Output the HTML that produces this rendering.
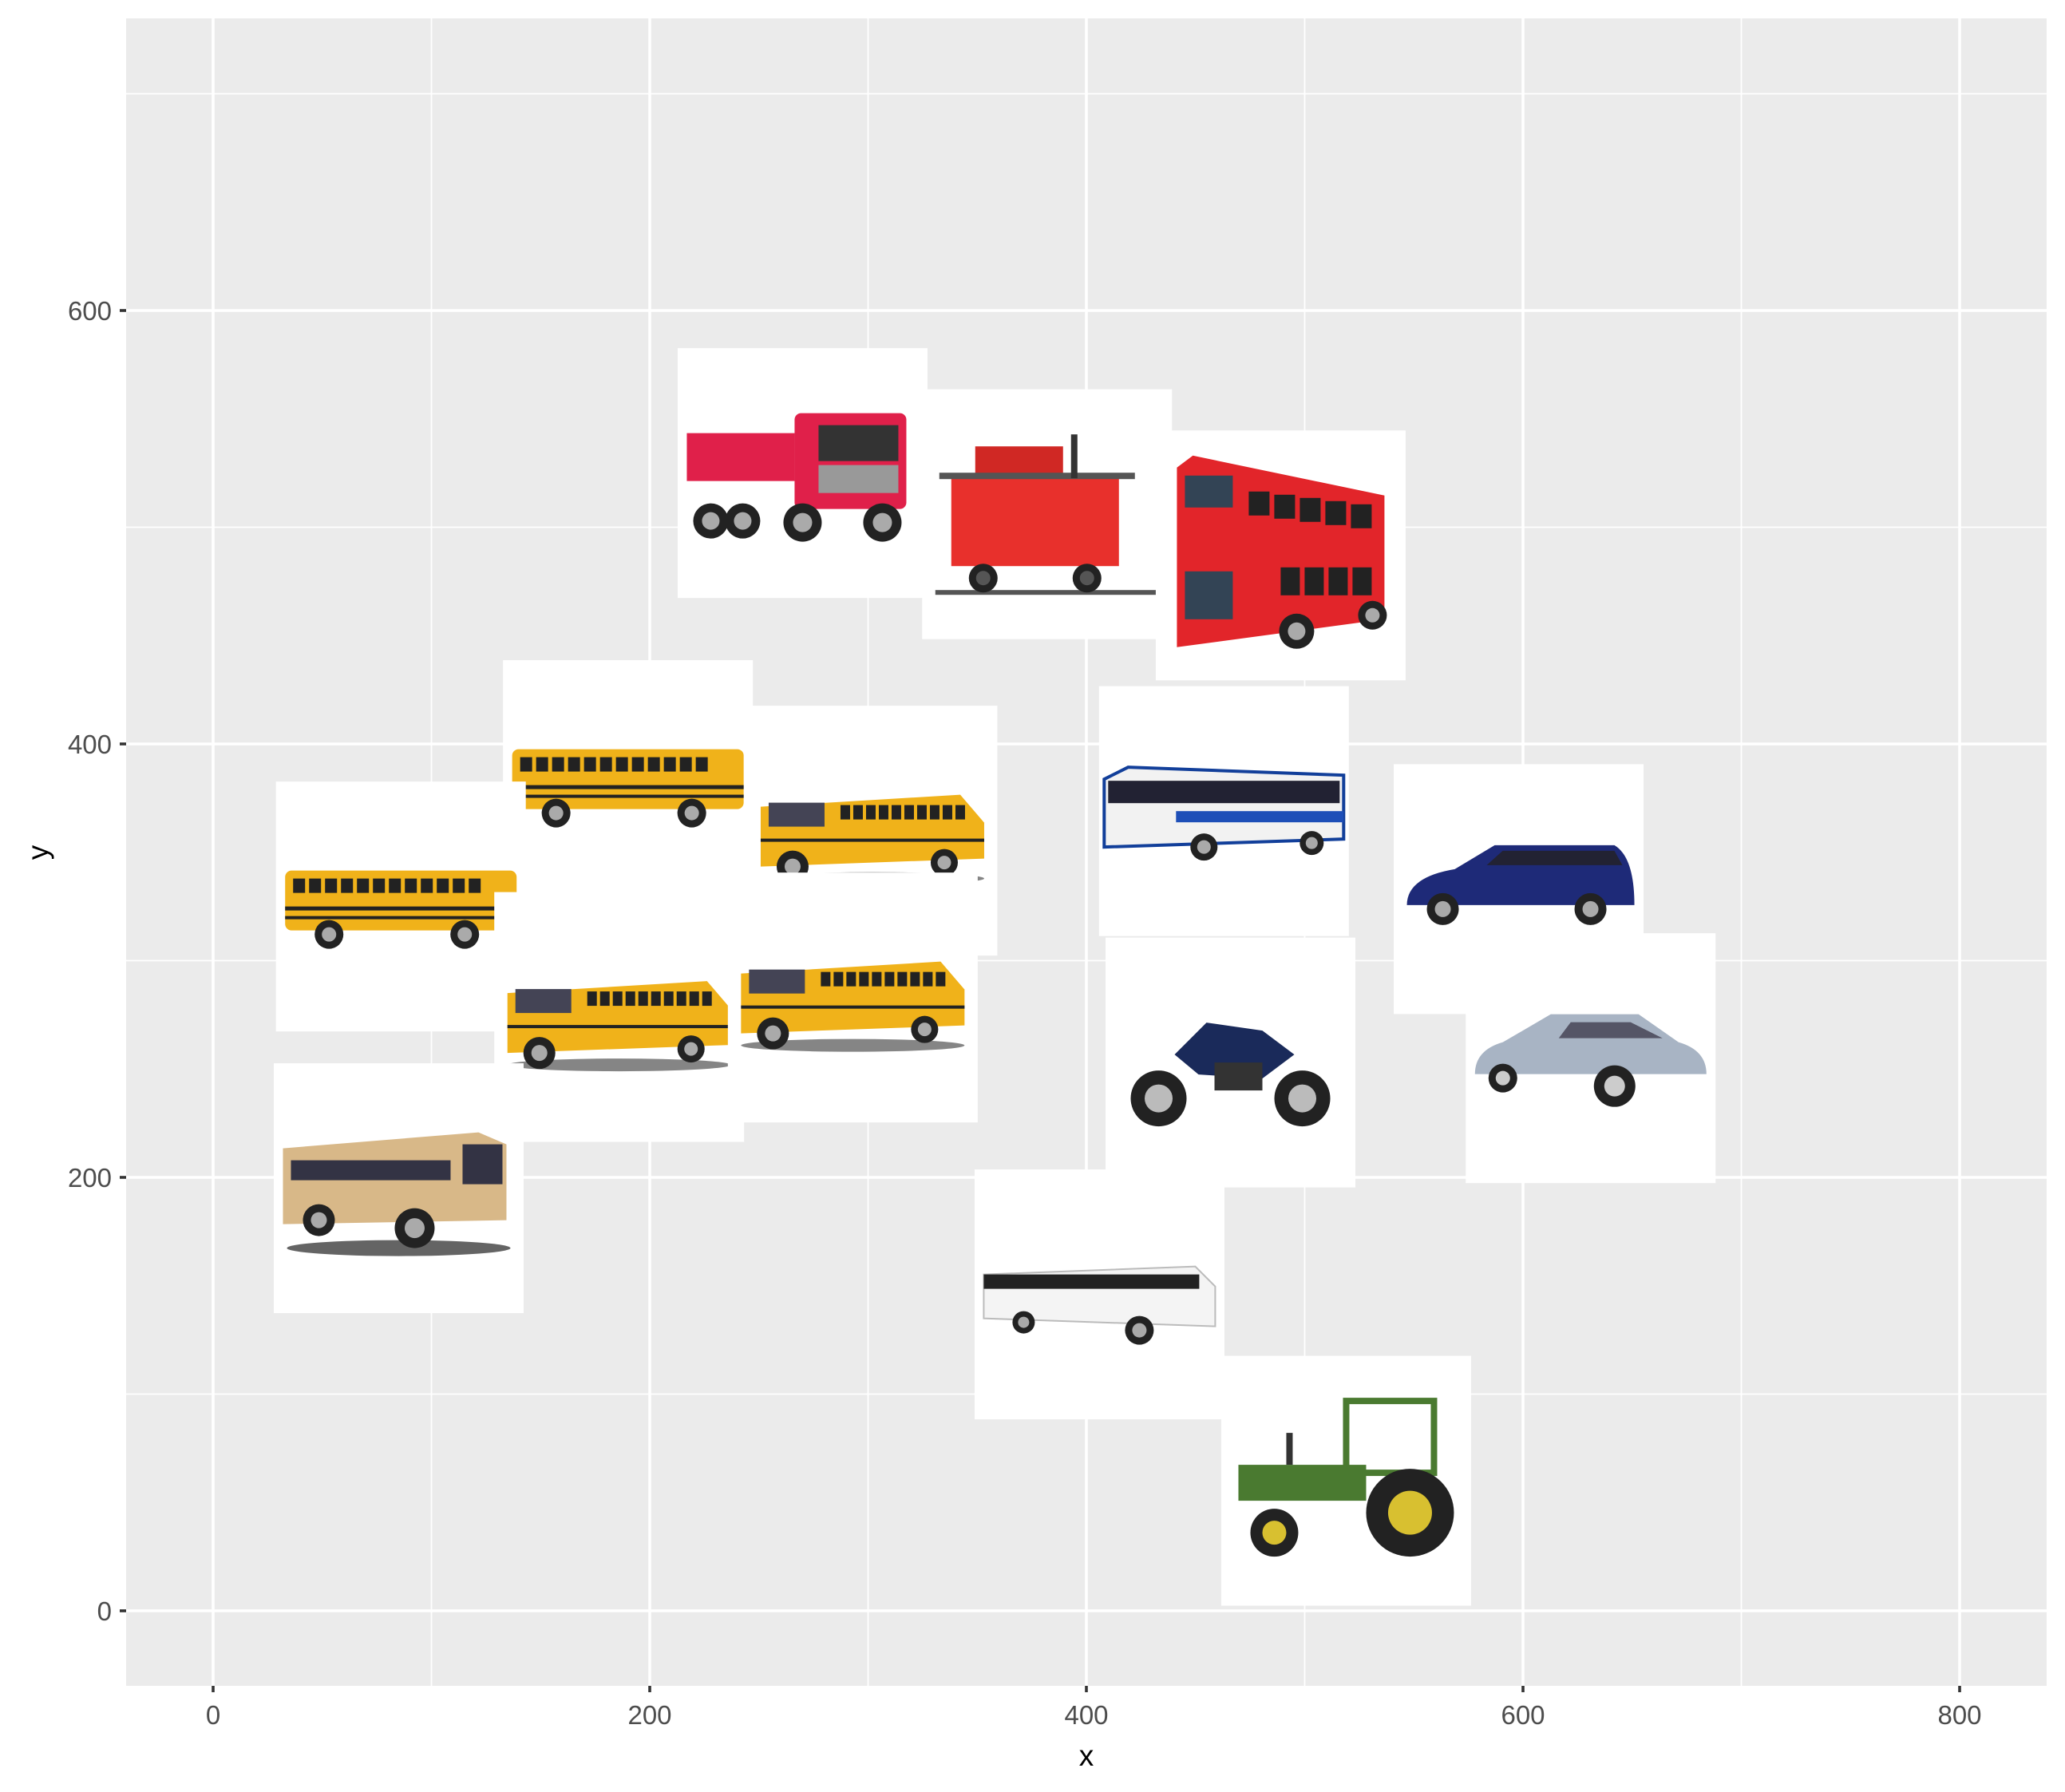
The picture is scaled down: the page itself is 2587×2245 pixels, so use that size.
<!DOCTYPE html>
<html><head><meta charset="utf-8"><style>
html,body{margin:0;padding:0;background:#fff;}
svg{display:block;font-family:"Liberation Sans",Arial,sans-serif;}
</style></head><body>
<svg id="chart" width="2587" height="2245" viewBox="0 0 2587 2245">
<rect x="158" y="23" width="2406" height="2089" fill="#ebebeb"/>
<g id="grid"></g>
<g id="marks"></g>
<g id="axes"></g>
<text x="1361" y="2212" font-size="37" text-anchor="middle" fill="#000">x</text>
<text x="0" y="0" font-size="37" text-anchor="middle" fill="#000" transform="translate(60,1068) rotate(-90)">y</text>
</svg>
<script>
const names=["dump-truck","caboose","double-decker-bus","school-bus-a","school-bus-b","school-bus-c","city-bus","minivan","school-bus-d","school-bus-e","motorcycle","hatchback-car","tan-coach-bus","white-coach-bus","tractor"];
const kinds=["truck","caboose","decker","school","schoolfront","school","citybus","van","schoolfront","schoolfront","moto","car","tanbus","coach","tractor"];
const xs=[270,382,489,190,302,86,463,598,186,293,466,631,85,406,519];
const ys=[525,506,487,381,360,325,369,333,274,283,253,255,195,146,60];
const xTicks=[0,200,400,600,800];
const xMinor=[100,300,500,700];
const yTicks=[0,200,400,600];
const yMinor=[100,300,500,700];

const NS="http://www.w3.org/2000/svg";
function sx(v){return 267+v*2.735;}
function sy(v){return 2018-v*2.715;}
function mk(tag,attrs,parent){const e=document.createElementNS(NS,tag);for(const k in attrs)e.setAttribute(k,attrs[k]);parent.appendChild(e);return e;}
const grid=document.getElementById('grid'),axes=document.getElementById('axes'),marks=document.getElementById('marks');
xMinor.forEach(v=>{const l=mk('line',{x1:sx(v),x2:sx(v),y1:23,y2:2112,stroke:'#fff','stroke-width':1.8},grid);

});
yMinor.forEach(v=>{const l=mk('line',{x1:158,x2:2564,y1:sy(v),y2:sy(v),stroke:'#fff','stroke-width':1.8},grid);

});
xTicks.forEach(v=>{const l=mk('line',{x1:sx(v),x2:sx(v),y1:23,y2:2112,stroke:'#fff','stroke-width':3.6},grid);


const t=mk('line',{x1:sx(v),x2:sx(v),y1:2112,y2:2120,stroke:'#333','stroke-width':3.6},axes);


const tx=mk('text',{x:sx(v),y:2160,'font-size':33,'text-anchor':'middle',fill:'#4d4d4d'},axes);tx.textContent=v;

});
yTicks.forEach(v=>{const l=mk('line',{x1:158,x2:2564,y1:sy(v),y2:sy(v),stroke:'#fff','stroke-width':3.6},grid);


const t=mk('line',{x1:150,x2:158,y1:sy(v),y2:sy(v),stroke:'#333','stroke-width':3.6},axes);


const tx=mk('text',{x:140,y:sy(v)+12,'font-size':33,'text-anchor':'end',fill:'#4d4d4d'},axes);tx.textContent=v;

});

function wheel(g,cx,cy,r,hub){mk('circle',{cx:cx,cy:cy,r:r,fill:'#222'},g);mk('circle',{cx:cx,cy:cy,r:r*0.5,fill:hub||'#aaa'},g);}
function draw(g,kind){
 if(kind==='school'){mk('rect',{x:-145,y:-45,width:290,height:75,rx:8,fill:'#f0b21a'},g);
  for(let i=0;i<12;i++)mk('rect',{x:-135+i*20,y:-35,width:15,height:18,fill:'#222'},g);
  mk('rect',{x:-145,y:0,width:290,height:5,fill:'#222'},g);mk('rect',{x:-145,y:12,width:290,height:4,fill:'#222'},g);
  wheel(g,-90,35,18);wheel(g,80,35,18);}
 else if(kind==='schoolfront'){mk('polygon',{points:'-140,-30 110,-45 140,-10 140,35 -140,45',fill:'#f0b21a'},g);
  for(let i=0;i<10;i++)mk('rect',{x:-40+i*16,y:-32,width:12,height:18,fill:'#222'},g);
  mk('rect',{x:-130,y:-35,width:70,height:30,fill:'#445'},g);mk('rect',{x:-140,y:10,width:280,height:4,fill:'#222'},g);
  mk('ellipse',{cx:0,cy:60,rx:140,ry:8,fill:'#333',opacity:0.6},g);
  wheel(g,-100,45,20);wheel(g,90,40,17);}
 else if(kind==='truck'){mk('rect',{x:-145,y:-50,width:135,height:60,fill:'#e0204a'},g);
  mk('rect',{x:-10,y:-75,width:140,height:120,rx:8,fill:'#e0204a'},g);mk('rect',{x:20,y:-60,width:100,height:45,fill:'#333'},g);
  mk('rect',{x:20,y:-10,width:100,height:35,fill:'#999'},g);
  wheel(g,-115,60,22);wheel(g,-75,60,22);wheel(g,0,62,24);wheel(g,100,62,24);}
 else if(kind==='caboose'){mk('rect',{x:-120,y:-45,width:210,height:110,fill:'#e8302c'},g);
  mk('rect',{x:-90,y:-85,width:110,height:40,fill:'#d02824'},g);mk('rect',{x:-135,y:-52,width:245,height:8,fill:'#555'},g);
  mk('rect',{x:30,y:-100,width:8,height:55,fill:'#333'},g);mk('rect',{x:-140,y:95,width:290,height:6,fill:'#555'},g);
  wheel(g,-80,80,18,'#555');wheel(g,50,80,18,'#555');}
 else if(kind==='decker'){mk('polygon',{points:'-130,-110 -110,-125 130,-75 130,80 -130,115',fill:'#e2252a'},g);
  mk('rect',{x:-120,y:-100,width:60,height:40,fill:'#345'},g);mk('rect',{x:-120,y:20,width:60,height:60,fill:'#345'},g);
  for(let i=0;i<5;i++)mk('rect',{x:-40+i*32,y:-80+i*4,width:26,height:30,fill:'#222'},g);
  for(let i=0;i<4;i++)mk('rect',{x:0+i*30,y:15,width:24,height:35,fill:'#222'},g);
  wheel(g,20,95,22);wheel(g,115,75,18);}
 else if(kind==='citybus'){mk('polygon',{points:'-150,-40 -120,-55 150,-45 150,35 -150,45',fill:'#f2f2f2',stroke:'#123f9a','stroke-width':4},g);
  mk('rect',{x:-145,y:-38,width:290,height:28,fill:'#223'},g);mk('rect',{x:-60,y:0,width:210,height:14,fill:'#1e4fb8'},g);
  wheel(g,-25,45,17);wheel(g,110,40,15);}
 else if(kind==='van'){mk('path',{d:'M-140,20 Q-140,-15 -80,-25 L-30,-55 L120,-55 Q145,-40 145,20 Z',fill:'#1e2a78'},g);
  mk('path',{d:'M-40,-30 L-20,-48 L120,-48 L130,-30 Z',fill:'#223'},g);wheel(g,-95,25,20);wheel(g,90,25,20);}
 else if(kind==='car'){mk('path',{d:'M-145,20 Q-145,-10 -110,-20 L-50,-55 L60,-55 L110,-20 Q145,-10 145,20 Z',fill:'#a8b4c4'},g);
  mk('path',{d:'M-40,-25 L-25,-45 L50,-45 L90,-25 Z',fill:'#556'},g);wheel(g,-110,25,18,'#ccc');wheel(g,30,35,26,'#ccc');}
 else if(kind==='moto'){mk('path',{d:'M-70,-10 L-30,-50 L40,-40 L80,-10 L40,20 L-40,15 Z',fill:'#1a2a5a'},g);
  mk('rect',{x:-20,y:0,width:60,height:35,fill:'#333'},g);wheel(g,-90,45,35,'#bbb');wheel(g,90,45,35,'#bbb');}
 else if(kind==='tanbus'){mk('path',{d:'M-145,-50 L100,-70 L135,-55 L135,40 L-145,45 Z',fill:'#d8b888'},g);
  mk('rect',{x:-135,y:-35,width:200,height:25,fill:'#334'},g);mk('rect',{x:80,y:-55,width:50,height:50,fill:'#334'},g);
  mk('ellipse',{cx:0,cy:75,rx:140,ry:10,fill:'#222',opacity:0.7},g);wheel(g,-100,40,20);wheel(g,20,50,25);}
 else if(kind==='coach'){mk('path',{d:'M-145,-25 L120,-35 L145,-10 L145,40 L-145,30 Z',fill:'#f4f4f4',stroke:'#bbb','stroke-width':2},g);
  mk('rect',{x:-145,y:-25,width:270,height:18,fill:'#222'},g);wheel(g,-95,35,14);wheel(g,50,45,18);}
 else if(kind==='tractor'){mk('rect',{x:0,y:-100,width:110,height:90,fill:'none',stroke:'#4a7a30','stroke-width':8},g);
  mk('rect',{x:-135,y:-20,width:160,height:45,fill:'#4a7a30'},g);mk('rect',{x:-75,y:-60,width:8,height:40,fill:'#333'},g);
  wheel(g,-90,65,30,'#d8c030');wheel(g,80,40,55,'#d8c030');}
}
const BOX=313;
xs.forEach((v,i)=>{const cx=sx(v),cy=sy(ys[i]);
 const g=mk('g',{transform:'translate('+cx+','+cy+')'},marks);
 
 
 mk('rect',{x:-BOX/2,y:-BOX/2,width:BOX,height:BOX,fill:'#fff'},g);
 draw(g,kinds[i]);});
</script>
</body></html>
